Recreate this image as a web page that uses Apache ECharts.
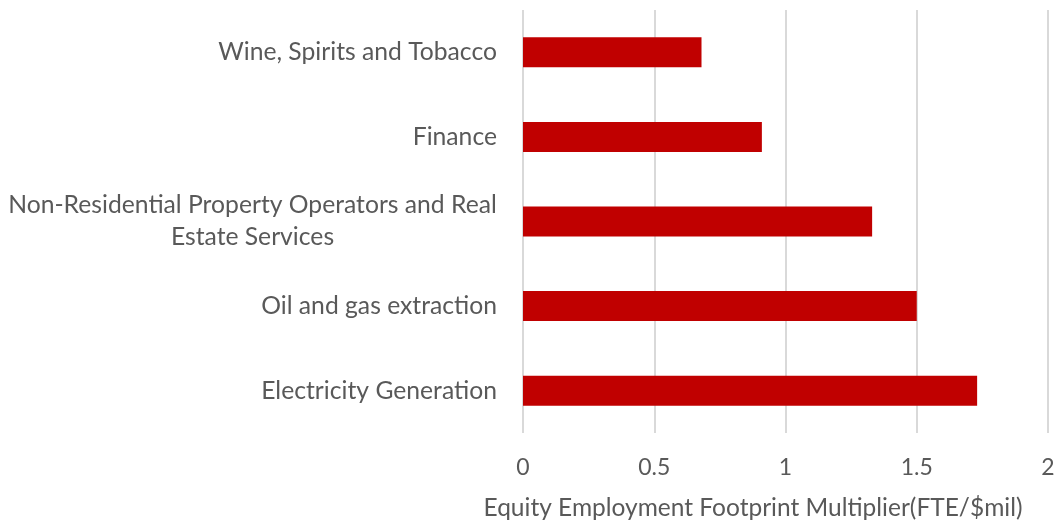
<!DOCTYPE html>
<html>
<head>
<meta charset="utf-8">
<script src="https://cdn.jsdelivr.net/npm/echarts@6/dist/echarts.min.js"></script>
<style>
  html, body { margin: 0; padding: 0; background: #ffffff; }
  #chart { width: 1062px; height: 526px; }
</style>
</head>
<body>
<div id="chart"></div>
<script>
// Sectors, listed bottom-to-top as the category axis draws them
const sectors = [
  'Electricity Generation',
  'Oil and gas extraction',
  'Non-Residential Property Operators and Real\nEstate Services',
  'Finance',
  'Wine, Spirits and Tobacco'
];
// Employment footprint multiplier (FTE per $ million)
const multipliers = [1.73, 1.50, 1.33, 0.91, 0.68];
const xTicks = [0, 0.5, 1, 1.5, 2];
const axisTitle = 'Equity Employment Footprint Multiplier(FTE/$mil)';

const textColor = '#595959';
const fontFamily = 'Lato, "Open Sans", sans-serif';
const catFontSize = 24.7;

// Width of the widest line of a wrapped label, so its lines can be centred on each other
const measureCtx = document.createElement('canvas').getContext('2d');
measureCtx.font = catFontSize + 'px ' + fontFamily;
function blockWidth(label) {
  return Math.ceil(Math.max(...label.split('\n').map(l => measureCtx.measureText(l).width)));
}

const chart = echarts.init(document.getElementById('chart'), null, { renderer: 'canvas' });
chart.setOption({
  animation: false,
  backgroundColor: '#ffffff',
  grid: { left: 523, right: 14, top: 10, bottom: 93, containLabel: false },
  xAxis: {
    type: 'value',
    min: xTicks[0],
    max: xTicks[xTicks.length - 1],
    interval: 0.5,
    axisLine: { show: false },
    axisTick: { show: false },
    splitLine: { show: true, lineStyle: { color: '#d9d9d9', width: 2 } },
    axisLabel: {
      color: textColor, fontSize: 23, fontFamily: fontFamily, margin: 23,
      formatter: v => String(v)
    }
  },
  yAxis: {
    type: 'category',
    data: sectors,
    axisLine: { show: false },
    axisTick: { show: false },
    splitLine: { show: false },
    axisLabel: {
      color: textColor, fontSize: catFontSize, fontFamily: fontFamily, margin: 26,
      align: 'right', lineHeight: 32,
      formatter: function (value) {
        if (value.indexOf('\n') < 0) return value;
        return value.split('\n').map(l => '{w|' + l + '}').join('\n');
      },
      rich: {
        w: {
          width: blockWidth(sectors[2]),
          align: 'center',
          color: textColor, fontSize: catFontSize, fontFamily: fontFamily, lineHeight: 32
        }
      }
    }
  },
  series: [{
    type: 'bar',
    data: multipliers,
    barWidth: 30,
    itemStyle: { color: '#c00000' }
  }],
  graphic: [{
    type: 'text',
    x: 753,
    y: 508,
    style: {
      text: axisTitle,
      fill: textColor,
      font: '24.5px ' + fontFamily,
      textAlign: 'center',
      textVerticalAlign: 'middle'
    }
  }]
});
</script>
</body>
</html>
